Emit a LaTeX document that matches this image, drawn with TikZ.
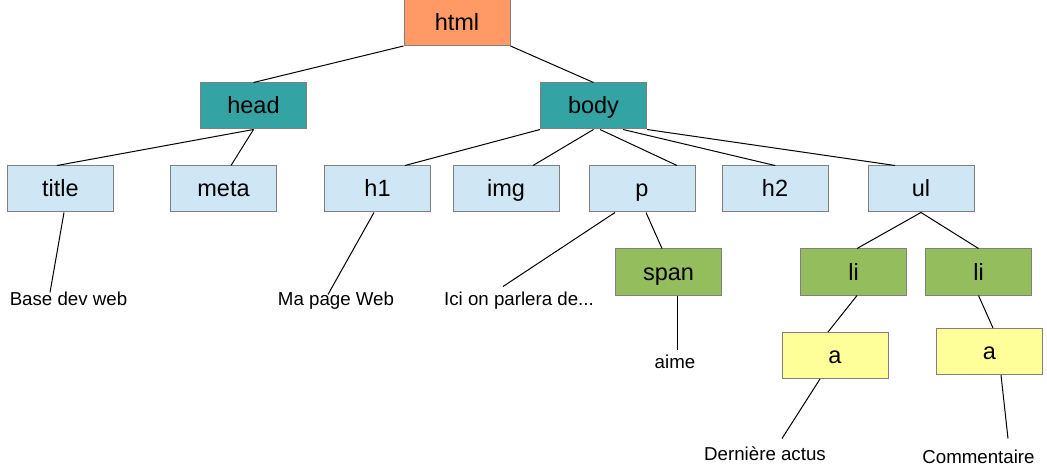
\documentclass[tikz,border=0pt]{standalone}
\usepackage{fontspec}
\setmainfont{Liberation Sans}
\definecolor{rootorange}{HTML}{FF9966}
\definecolor{secteal}{HTML}{33A3A3}
\definecolor{tagblue}{HTML}{CFE6F4}
\definecolor{inlinegreen}{HTML}{94BD5E}
\definecolor{linkyellow}{HTML}{FFFF99}
\definecolor{boxgray}{HTML}{808080}

\begin{document}
\begin{tikzpicture}[x=1pt, y=-1pt, line width=1pt]
                \tikzset{tag/.style={draw=boxgray, line width=1pt, rectangle, minimum width=106pt, minimum height=46pt, inner sep=0pt, text height=17pt, text depth=1pt, font=\fontsize{23.5}{28}\selectfont},
                         leaf/.style={inner sep=0pt, anchor=base, text height=14pt, text depth=4pt, font=\fontsize{18.7}{22}\selectfont}}
                \useasboundingbox (0,0) rectangle (1047,473);
                \node[tag, fill=rootorange] (html) at (457,22.5) {html};
                \node[tag, fill=secteal] (head) at (253.5,106) {head};
                \node[tag, fill=secteal] (body) at (593.5,106) {body};
                \node[tag, fill=tagblue] (title) at (60.5,189) {title};
                \node[tag, fill=tagblue] (meta) at (223.5,189) {meta};
                \node[tag, fill=tagblue] (h1) at (377.5,189) {h1};
                \node[tag, fill=tagblue] (img) at (506,189) {img};
                \node[tag, fill=tagblue] (p) at (642,189) {p};
                \node[tag, fill=tagblue] (h2) at (775,189) {h2};
                \node[tag, fill=tagblue] (ul) at (921,189) {ul};
                \node[tag, fill=inlinegreen] (span) at (668.5,272) {span};
                \node[tag, fill=inlinegreen] (li1) at (853.5,272) {li};
                \node[tag, fill=inlinegreen] (li2) at (978.5,272) {li};
                \node[tag, fill=linkyellow] (a1) at (835,355.5) {a};
                \node[tag, fill=linkyellow] (a2) at (989.5,351.5) {a};
                \node[leaf] (tbase) at (68.5,305) {Base dev web};
                \node[leaf] (tpage) at (336,305) {Ma page Web};
                \node[leaf] (tici) at (519,305) {Ici on parlera de...};
                \node[leaf] (taime) at (675,368) {aime};
                \node[leaf] (tactus) at (765,460) {Dernière actus};
                \node[leaf] (tcomm) at (978.5,463) {Commentaire};
                \draw (html.south west) -- (head.north);
                \draw (html.south east) -- (body.north);
                \draw (head.south) -- ([xshift=-3.5pt]title.north);
                \draw (head.south) -- ([xshift=7.5pt]meta.north);
                \draw (body.south west) -- ([xshift=27.5pt]h1.north);
                \draw (body.south) -- ([xshift=27pt]img.north);
                \draw ([xshift=6.5pt]body.south) -- ([xshift=35pt]p.north);
                \draw ([xshift=29.5pt]body.south) -- (h2.north);
                \draw (body.south east) -- ([xshift=-26pt]ul.north);
                \draw ([xshift=3.5pt]title.south) -- ([xshift=-18.5pt, yshift=-2pt]tbase.north);
                \draw ([xshift=-3.5pt]h1.south) -- ([xshift=-8pt, yshift=-4pt]tpage.north);
                \draw ([xshift=-27pt]p.south) -- ([xshift=-16pt, yshift=4pt]tici.north);
                \draw ([xshift=4pt]p.south) -- ([xshift=-6.5pt]span.north);
                \draw ([xshift=8.5pt]span.south) -- ([xshift=2pt, yshift=4pt]taime.north);
                \draw (ul.south) -- ([xshift=3.5pt]li1.north);
                \draw (ul.south) -- (li2.north);
                \draw ([xshift=3.5pt]li1.south) -- ([xshift=-7pt]a1.north);
                \draw (li2.south) -- ([xshift=3.5pt]a2.north);
                \draw ([xshift=-15pt]a1.south) -- ([xshift=17pt, yshift=7pt]tactus.north);
                \draw ([xshift=11.5pt]a2.south) -- ([xshift=29.5pt, yshift=10pt]tcomm.north);
            \end{tikzpicture}
\end{document}
